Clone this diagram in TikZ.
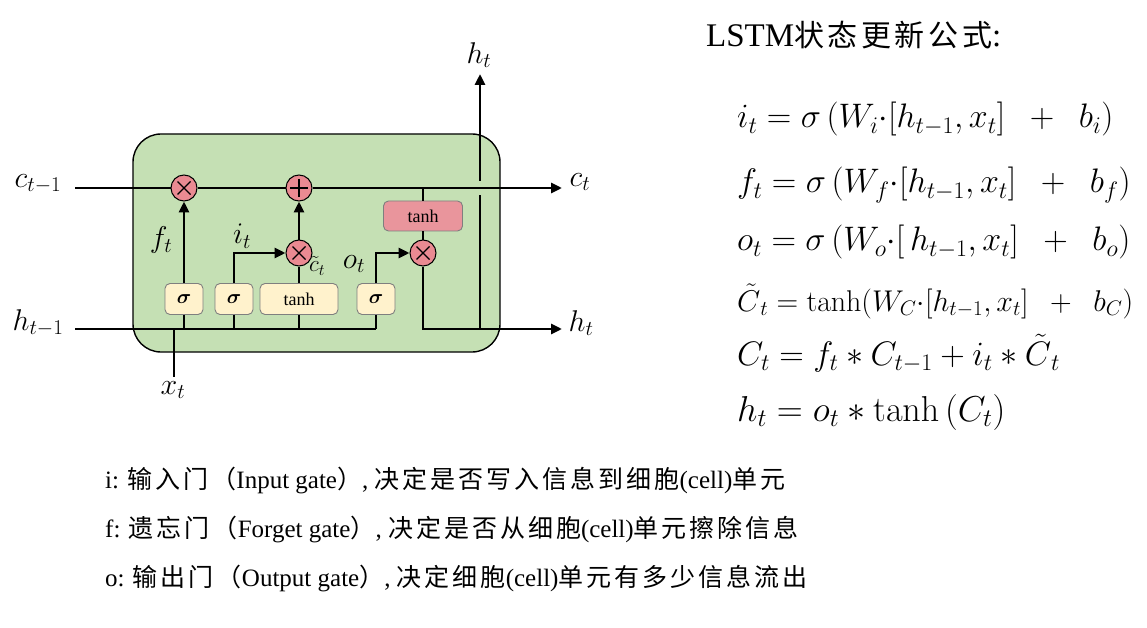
\RequirePackage{fix-cm}
\documentclass[tikz,border=0pt]{standalone}
\usepackage{bm}
\usepackage[no-math]{fontspec}
\setmainfont{Liberation Serif}
\newfontfamily\cjk[LetterSpace=12]{Noto Sans CJK SC}
\newcommand\zh[1]{{\cjk #1}}
\newcommand\tC{\vphantom{C}\smash{\tilde{C}}}
\usetikzlibrary{arrows.meta}
\definecolor{cellgreen}{HTML}{C5E0B4}
\definecolor{opink}{HTML}{EA8A92}
\definecolor{boxpink}{HTML}{E9959C}
\definecolor{gateyellow}{HTML}{FFF2CC}
\definecolor{gateborder}{HTML}{7F7F7F}
\tikzset{
  cellbox/.style={draw, line width=1.4pt, fill=cellgreen, rounded corners=28pt, minimum width=367pt, minimum height=218pt},
  op/.style={circle, draw, line width=1pt, fill=opink, minimum size=26pt, inner sep=0pt},
  timesop/.style={op, path picture={\draw[line width=1.3pt, shift={(path picture bounding box.center)}] (-6.5,-6.5)--(6.5,6.5) (-6.5,6.5)--(6.5,-6.5);}},
  plusop/.style={op, path picture={\draw[line width=1.3pt, shift={(path picture bounding box.center)}] (-9,0)--(9,0) (0,-9)--(0,9);}},
  gatebox/.style={draw=gateborder, line width=0.9pt, fill=gateyellow, rounded corners=5pt, minimum width=38pt, minimum height=31pt, inner sep=0pt, font=\fontsize{20}{24}\selectfont},
  pinkbox/.style={draw=gateborder, line width=0.9pt, fill=boxpink, rounded corners=5pt, minimum width=79pt, minimum height=30pt, inner sep=0pt, font=\fontsize{18}{22}\selectfont},
  lbl/.style={font=\fontsize{30}{34}\selectfont, inner sep=0pt},
  eq/.style={anchor=base west, inner sep=0pt, font=\fontsize{34}{40}\selectfont},
  note/.style={anchor=base west, inner sep=0pt, font=\fontsize{25}{30}\selectfont},
  wire/.style={line width=2.8pt},
  arr/.style={wire, -{Triangle[length=11pt,width=10pt]}}
}
\begin{document}
\begin{tikzpicture}[x=1pt,y=-1pt]
\useasboundingbox (0,0) rectangle (1147,628);
% cell
\node[cellbox] (cell) at (316.5,243) {};
% operators
\node[timesop] (fx) at (184,188) {};
\node[plusop] (add) at (299,188) {};
\node[timesop] (ix) at (299,253) {};
\node[timesop] (ox) at (423,253) {};
\node[pinkbox] (th2) at (423,216) {tanh};
% gates
\node[gatebox] (sf) at (184,299) {$\bm{\sigma}$};
\node[gatebox] (si) at (234,299) {$\bm{\sigma}$};
\node[gatebox, minimum width=78pt, font=\fontsize{18}{22}\selectfont] (tc) at (299,299) {tanh};
\node[gatebox] (so) at (376,299) {$\bm{\sigma}$};
% coordinates
\coordinate (cin) at (75,188);
\coordinate (cout) at (562,188);
\coordinate (hin) at (75,329);
\coordinate (hout) at (562,329);
\coordinate (hj) at (480,329);
\coordinate (gapb) at (480,195);
\coordinate (gapt) at (480,181);
\coordinate (htop) at (480,74);
\coordinate (xj) at (174,329);
\coordinate (xb) at (174,377);
% cell state line
\draw[wire] (cin) -- (fx.west);
\draw[wire] (fx.east) -- (add.west);
\draw[arr] (add.east) -- (cout);
% hidden input line
\draw[wire] (hin) -- (so.south |- hin);
\draw[wire] (xj) -- (xb);
\draw[wire] (sf.south) -- (sf.south |- hin);
\draw[wire] (si.south) -- (si.south |- hin);
\draw[wire] (tc.south) -- (tc.south |- hin);
\draw[wire] (so.south) -- (so.south |- hin);
% gate connections
\draw[arr] (sf.north) -- (fx.south);
\draw[arr] (si.north) |- (ix.west);
\draw[wire] (tc.north) -- (ix.south);
\draw[arr] (ix.north) -- (add.south);
\draw[arr] (so.north) |- (ox.west);
\draw[wire] (th2.north) -- (th2.north |- cin);
\draw[wire] (th2.south) -- (ox.north);
\draw[arr] (ox.south) |- (hout);
\draw[wire] (hj) -- (gapb);
\draw[arr] (gapt) -- (htop);
% labels
\node[lbl] (lc1) at (38,184) {$c_{t-1}$};
\node[lbl] (lh1) at (38,323) {$h_{t-1}$};
\node[lbl] (lct) at (580,182) {$c_t$};
\node[lbl] (lht) at (581,323) {$h_t$};
\node[lbl] (lhtop) at (479,55) {$h_t$};
\node[lbl] (lxt) at (173,390) {$x_t$};
\node[lbl] (lft) at (161,240) {$f_t$};
\node[lbl] (lit) at (242,236) {$i_t$};
\node[lbl] (lot) at (354,264) {$o_t$};
\node[lbl, font=\fontsize{23}{27}\selectfont] (lct2) at (317,266) {$\tilde{c}_t$};
% title
\node[anchor=base west, inner sep=0pt, font=\fontsize{31}{38}\selectfont] (title) at (706,47) {{\fontsize{33}{38}\selectfont LSTM}{\fontsize{30}{38}\selectfont\cjk 状态更新公式}{\fontsize{33}{38}\selectfont :}};
% equations
\node[eq] (e1) at (737,128) {$i_t = \sigma\,(W_i{\cdot}[h_{t-1}, x_t]\ \ +\ \ b_i)$};
\node[eq] (e2) at (737,193) {$f_t = \sigma\,(W_f{\cdot}[h_{t-1}, x_t]\ \ +\ \ b_f)$};
\node[eq] (e3) at (737,251) {$o_t = \sigma\,(W_o{\cdot}[\,h_{t-1}, x_t]\ \ +\ \ b_o)$};
\node[eq, font=\fontsize{30}{36}\selectfont] (e4) at (737,311) {$\tC_t = \tanh(W_C{\cdot}[h_{t-1}, x_t]\ \ +\ \ b_C)$};
\node[eq, font=\fontsize{34}{40}\selectfont] (e5) at (737,365) {$C_t = f_t * C_{t-1} + i_t * \tC_t$};
\node[eq, font=\fontsize{36}{40}\selectfont] (e6) at (737,421) {$h_t = o_t * \tanh\,(C_t)$};
% notes
\node[note] (n1) at (105,488) {i: \zh{输入门（}Input gate\zh{）}, \zh{决定是否写入信息到细胞}(cell)\zh{单元}};
\node[note] (n2) at (105,537) {f: \zh{遗忘门（}Forget gate\zh{）}, \zh{决定是否从细胞}(cell)\zh{单元擦除信息}};
\node[note] (n3) at (105,586) {o: \zh{输出门（}Output gate\zh{）}, \zh{决定细胞}(cell)\zh{单元有多少信息流出}};
\end{tikzpicture}
\end{document}
